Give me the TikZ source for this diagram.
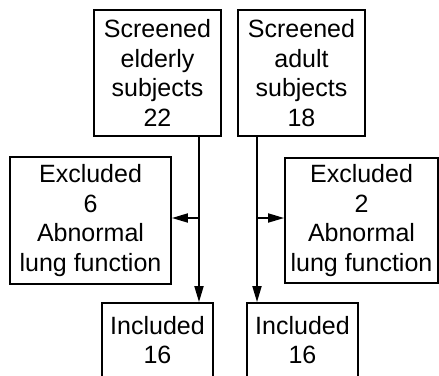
\documentclass[tikz,border=0pt]{standalone}
\usepackage{fontspec}
\setmainfont{Liberation Sans}
\usetikzlibrary{arrows.meta,positioning}

\begin{document}
\begin{tikzpicture}[x=1pt,y=-1pt,line width=1.8pt,
      font=\fontsize{25}{29.5}\selectfont,
      box/.style={draw,align=center,inner sep=0pt},
      flow/.style={-{Triangle[length=16pt,width=9pt]}}]
  \useasboundingbox (0,0) rectangle (439,375);
  % screened groups
  \node[box,minimum width=127pt,minimum height=126pt] (eld) at (157.5,73)
    {Screened\\elderly\\subjects\\22};
  \node[box,minimum width=127pt,minimum height=126pt] (adu) at (301.5,73)
    {Screened\\adult\\subjects\\18};
  % excluded
  \node[box,minimum width=161pt,minimum height=127pt] (exeld) at (90.5,220.5)
    {Excluded\\6\\Abnormal\\lung function};
  \node[box,minimum width=153pt,minimum height=125pt] (exadu) at (361.5,220.5)
    {Excluded\\2\\Abnormal\\lung function};
  % included
  \node[box,minimum width=111pt,minimum height=74pt] (ineld) at (157.5,340)
    {Included\\16};
  \node[box,minimum width=111pt,minimum height=74pt] (inadu) at (302.5,340)
    {Included\\16};
  \coordinate (seld) at (199,218);
  \coordinate (sadu) at (257,218);
  \draw[flow] (eld.south -| seld) -- (ineld.north -| seld);
  \draw[flow] (adu.south -| sadu) -- (inadu.north -| sadu);
  \draw[flow] (seld) -- (exeld.east |- seld);
  \draw[flow] (sadu) -- (exadu.west |- sadu);
\end{tikzpicture}
\end{document}
